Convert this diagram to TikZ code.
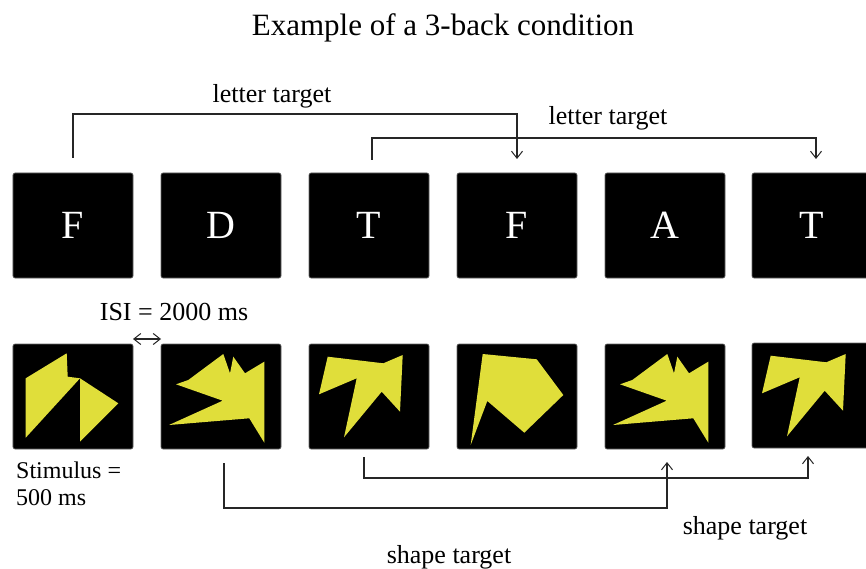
\documentclass[tikz,border=0pt]{standalone}
\usepackage{fontspec}
\setmainfont{Liberation Serif}
\usetikzlibrary{arrows.meta}
\definecolor{shapeyellow}{RGB}{224,222,58}
\tikzset{
  card/.style={fill=black, draw=black!60, line width=0.6bp, rounded corners=2bp,
    minimum width=120bp, minimum height=105bp, inner sep=0pt, outer sep=0pt,
    text=white, font=\fontsize{40bp}{40bp}\selectfont},
  label/.style={anchor=base, inner sep=0pt, font=\fontsize{26bp}{26bp}\selectfont},
  link/.style={draw=black!85, line width=1.1bp, line join=miter},
  barb/.tip={Straight Barb[length=7bp,width=11bp,line width=1bp]},
  tip/.style={-barb},
  blob/.style={fill=shapeyellow}
}
\begin{document}
\begin{tikzpicture}[x=1bp, y=-1bp]
\clip (0,0) rectangle (866,569);
\fill[white] (0,0) rectangle (866,569);

% title
\node[label, font=\fontsize{31bp}{31bp}\selectfont] (title) at (443,36) {Example of a 3-back condition};

% letter cards
\node[card] (t1) at (73,225.5)  {F};
\node[card] (t2) at (221,225.5) {D};
\node[card] (t3) at (369,225.5) {T};
\node[card] (t4) at (517,225.5) {F};
\node[card] (t5) at (665,225.5) {A};
\node[card] (t6) at (812,225.5) {T};

% shape cards
\node[card] (b1) at (73,396.5)  {};
\node[card] (b2) at (221,396.5) {};
\node[card] (b3) at (369,396.5) {};
\node[card] (b4) at (517,396.5) {};
\node[card] (b5) at (665,396.5) {};
\node[card] (b6) at (812,395.5) {};

% yellow polygons, coordinates relative to each card's top-left corner
\begin{scope}[shift={(b1.north west)}]
  \fill[blob] (12.7,34.3) -- (53.7,9.3) -- (54.7,32.7) -- (67,34.3) -- (12.7,93.7) -- cycle;
  \fill[blob] (67,34.3) -- (105.3,59.3) -- (67,97.7) -- cycle;
\end{scope}
\foreach \b in {b2,b5}{
  \begin{scope}[shift={(\b.north west)}]
    \fill[blob] (15,40.3) -- (27.3,36) -- (62.3,10) -- (69,29.3) -- (72.3,12.7) -- (84,29.3)
      -- (103.3,17.7) -- (103.3,98.7) -- (88.3,74.3) -- (8,81) -- (61.7,56.7) -- cycle;
  \end{scope}
}
\foreach \b in {b3,b6}{
  \begin{scope}[shift={(\b.north west)}]
    \fill[blob] (18.7,12.7) -- (74.3,19.3) -- (93.7,11) -- (91,67.7) -- (72.7,47.7)
      -- (35,93.3) -- (47.7,34.3) -- (10,50.3) -- cycle;
  \end{scope}
}
\begin{scope}[shift={(b4.north west)}]
  \fill[blob] (25.7,10) -- (79.7,15.3) -- (106.3,51) -- (67.3,88.7) -- (30.3,57) -- (13.7,101) -- cycle;
\end{scope}

% letter target links
\draw[link, tip] ([yshift=15bp]t1.north) -- ([yshift=59bp]t1.north) -| ([yshift=14bp]t4.north);
\node[label] (lt1) at (272,103) {letter target};
\draw[link, tip] ([xshift=3bp,yshift=13bp]t3.north) -- ([xshift=3bp,yshift=35bp]t3.north)
  -| ([xshift=4bp,yshift=14bp]t6.north);
\node[label] (lt2) at (608,125) {letter target};

% shape target links
\draw[link, tip] ([xshift=3bp,yshift=-14bp]b2.south) -- ([xshift=3bp,yshift=-59bp]b2.south)
  -| ([xshift=2bp,yshift=-13bp]b5.south);
\node[label] (st1) at (449,563) {shape target};
\draw[link, tip] ([xshift=-5bp,yshift=-8bp]b3.south) -- ([xshift=-5bp,yshift=-29bp]b3.south)
  -| ([xshift=-4bp,yshift=-8bp]b6.south);
\node[label] (st2) at (745,534) {shape target};

% timing annotations
\node[label] (isi) at (174,320) {ISI = 2000 ms};
\draw[link, barb-barb] ([yshift=5bp]b1.north east) -- ([yshift=5bp]b2.north west);
\node[anchor=base west, inner sep=0pt, font=\fontsize{24bp}{24bp}\selectfont] (stim) at (16,478) {Stimulus =};
\node[anchor=base west, inner sep=0pt, font=\fontsize{24bp}{24bp}\selectfont] (dur) at (16,505) {500 ms};
\end{tikzpicture}
\end{document}
